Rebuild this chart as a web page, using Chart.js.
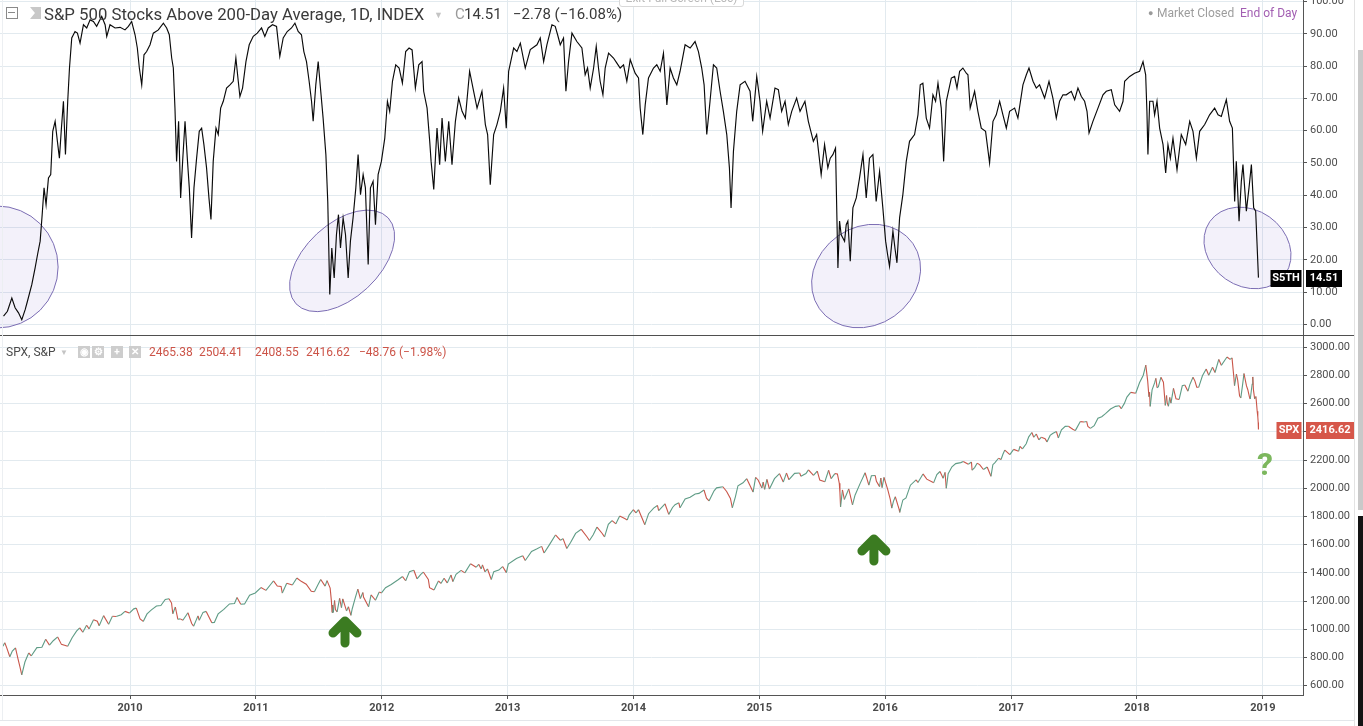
<!DOCTYPE html>
<html lang="en"><head><meta charset="utf-8"><title>S5TH vs SPX</title>
<script src="https://cdn.jsdelivr.net/npm/chart.js@4.4.1/dist/chart.umd.min.js"></script>
<style>
html,body{margin:0;padding:0;background:#fff}
body{position:relative;width:1363px;height:726px;overflow:hidden;font-family:Roboto,"Liberation Sans",Arial,sans-serif}
.a{position:absolute;white-space:nowrap}
canvas{position:absolute;left:0}
.ic{position:absolute;top:346px;width:12px;height:12px;background:#cdcdcd;color:#fff;font-size:10px;line-height:12px;text-align:center;font-weight:bold}
</style></head><body>
<canvas id="top" width="1355" height="336" style="top:0;width:1355px;height:336px"></canvas>
<canvas id="bot" width="1355" height="390" style="top:336px;width:1355px;height:390px"></canvas>

<div class="a" style="left:0;top:335px;width:1355px;height:1px;background:#4f4f4f"></div>
<div class="a" style="left:0;top:720px;width:1355px;height:1px;background:#e3e6ea"></div>
<div class="a" style="left:2px;top:0;width:1px;height:720px;background:#eceff2"></div>
<div class="a" style="left:1354px;top:0;width:1px;height:726px;background:#e3e3e3"></div>
<div class="a" style="left:1358px;top:50px;width:5px;height:460px;background:#c9c9c9"></div>
<div class="a" style="left:1358px;top:516px;width:5px;height:210px;background:#131313"></div>

<!-- top legend -->
<div class="a" style="left:6px;top:7px;width:10px;height:10px;border:1px solid #8a8a8a"></div>
<div class="a" style="left:8px;top:12px;width:7px;height:1px;background:#8a8a8a"></div>
<div class="a" style="left:30px;top:7px;width:11px;height:12px;background:#c8c8c8;clip-path:polygon(0 0,100% 0,100% 100%,0 100%,45% 50%)"></div>
<div class="a" style="left:44px;top:4px;font-size:16.75px;line-height:20px;color:#3a3a3a">S&amp;P 500 Stocks Above 200-Day Average, 1D, INDEX</div>
<div class="a" style="left:434px;top:5px;font-size:9px;line-height:20px;color:#c4c4c4">▼</div>
<div class="a" style="left:455px;top:4px;font-size:15px;line-height:20px;color:#9a9a9a">C</div>
<div class="a" style="left:464px;top:4px;font-size:15px;line-height:20px;color:#3a3a3a">14.51</div>
<div class="a" style="left:513px;top:4px;font-size:15px;line-height:20px;color:#3a3a3a">−2.78 (−16.08%)</div>
<div class="a" style="left:619px;top:-11px;width:123px;height:16px;border:1px solid #d9d9d9;border-radius:3px;background:#fff;color:#b8b8b8;font-size:12px;line-height:16px;text-align:center">Exit Full Screen (Esc)</div>
<div class="a" style="left:1148px;top:5px;font-size:9px;line-height:16px;color:#9a9a9a">●</div>
<div class="a" style="left:1157px;top:5px;font-size:12px;line-height:16px;color:#9d9d9d">Market Closed</div>
<div class="a" style="left:1240px;top:5px;font-size:12px;line-height:16px;color:#a25eb2">End of Day</div>

<!-- bottom legend -->
<div class="a" style="left:6px;top:344px;font-size:12px;line-height:16px;color:#4a4a4a">SPX, S&amp;P</div>
<div class="a" style="left:60px;top:345px;font-size:8px;line-height:16px;color:#c4c4c4">▼</div>
<div class="ic" style="left:78px">◉</div>
<div class="ic" style="left:92px">⚙</div>
<div class="ic" style="left:111px">+</div>
<div class="ic" style="left:129px">✕</div>
<div class="a" style="left:149px;top:344px;font-size:12px;line-height:16px;color:#cc5448">2465.38</div>
<div class="a" style="left:199px;top:344px;font-size:12px;line-height:16px;color:#cc5448">2504.41</div>
<div class="a" style="left:255px;top:344px;font-size:12px;line-height:16px;color:#cc5448">2408.55</div>
<div class="a" style="left:306px;top:344px;font-size:12px;line-height:16px;color:#cc5448">2416.62</div>
<div class="a" style="left:359px;top:344px;font-size:12px;line-height:16px;color:#cc5448">−48.76 (−1.98%)</div>

<script>
// ---------- tick labels ----------
const yearTicks = [2010, 2011, 2012, 2013, 2014, 2015, 2016, 2017, 2018, 2019];
const s5thTicks = [0, 10, 20, 30, 40, 50, 60, 70, 80, 90, 100];
const spxTicks = [600, 800, 1000, 1200, 1400, 1600, 1800, 2000, 2200, 2400, 2600, 2800, 3000];

// ---------- S5TH: % of S&P 500 stocks above 200-day average ([decimal year, value]) ----------
const s5th2009 = [[2008.995,2.6],[2009.026,4.1],[2009.061,8.2],[2009.087,5.2],[2009.114,3.6],[2009.140,1.5],[2009.167,4.6],[2009.185,7.2],[2009.220,12.4],[2009.246,17.5],[2009.265,21.6],[2009.286,25.8],[2009.302,34.0],[2009.317,42.3],[2009.333,37.1],[2009.352,45.4],[2009.370,46.4],[2009.386,59.8],[2009.405,62.9],[2009.423,56.7],[2009.439,51.5],[2009.455,60.8],[2009.471,69.1],[2009.487,52.6],[2009.505,69.1],[2009.519,79.4],[2009.537,88.7],[2009.563,90.7],[2009.582,90.2],[2009.603,87.1],[2009.630,92.8],[2009.656,91.8],[2009.683,94.3],[2009.709,93.8],[2009.735,92.3],[2009.775,95.4],[2009.802,92.8],[2009.815,89.2],[2009.841,92.8],[2009.881,91.8],[2009.921,92.0],[2009.960,91.2],[2009.987,92.3]];
const s5th2010 = [[2010.013,93.8],[2010.040,89.7],[2010.058,85.6],[2010.074,79.4],[2010.093,74.2],[2010.111,83.5],[2010.132,84.5],[2010.159,86.6],[2010.185,90.2],[2010.225,91.2],[2010.265,93.3],[2010.291,91.8],[2010.312,89.7],[2010.331,82.5],[2010.344,79.4],[2010.357,67.0],[2010.370,50.5],[2010.386,62.9],[2010.402,39.2],[2010.418,50.5],[2010.437,62.9],[2010.455,51.5],[2010.471,42.3],[2010.489,26.8],[2010.508,42.3],[2010.529,51.5],[2010.550,59.8],[2010.569,60.8],[2010.587,55.7],[2010.608,48.5],[2010.627,39.2],[2010.643,32.5],[2010.661,50.5],[2010.683,60.8],[2010.701,58.8],[2010.720,67.0],[2010.741,69.1],[2010.767,73.2],[2010.794,74.2],[2010.820,75.3],[2010.841,82.5],[2010.860,75.3],[2010.873,70.6],[2010.894,73.2],[2010.921,81.4],[2010.947,86.6],[2010.979,89.2]];
const s5th2011 = [[2011.011,90.2],[2011.045,91.8],[2011.071,89.2],[2011.098,91.8],[2011.132,92.8],[2011.164,92.3],[2011.190,83.0],[2011.217,88.7],[2011.249,90.7],[2011.283,91.8],[2011.310,93.3],[2011.336,90.7],[2011.362,89.7],[2011.381,84.5],[2011.402,81.4],[2011.423,75.3],[2011.442,69.1],[2011.455,62.9],[2011.476,74.2],[2011.495,81.4],[2011.513,73.2],[2011.534,63.9],[2011.556,52.6],[2011.571,38.1],[2011.587,9.3],[2011.603,23.7],[2011.622,14.4],[2011.640,27.8],[2011.656,34.0],[2011.672,23.7],[2011.693,33.0],[2011.712,27.8],[2011.733,14.4],[2011.751,25.8],[2011.772,33.0],[2011.794,42.3],[2011.812,52.6],[2011.831,40.2],[2011.852,46.4],[2011.870,42.3],[2011.892,18.6],[2011.910,42.3],[2011.931,44.3],[2011.950,30.9],[2011.971,46.4],[2011.997,50.5]];
const s5th2012 = [[2012.024,57.7],[2012.045,69.1],[2012.063,66.0],[2012.085,75.3],[2012.111,80.4],[2012.138,79.4],[2012.164,74.7],[2012.190,84.5],[2012.217,85.6],[2012.241,85.0],[2012.267,73.2],[2012.294,80.4],[2012.320,81.4],[2012.333,72.2],[2012.360,67.0],[2012.381,56.7],[2012.392,50.5],[2012.413,41.8],[2012.429,53.6],[2012.439,60.8],[2012.460,49.5],[2012.479,63.9],[2012.505,50.5],[2012.532,62.9],[2012.558,49.5],[2012.585,62.9],[2012.611,70.1],[2012.638,66.0],[2012.664,63.9],[2012.698,78.4],[2012.730,72.2],[2012.757,67.0],[2012.796,72.2],[2012.823,61.9],[2012.841,58.8],[2012.862,43.3],[2012.889,58.8],[2012.915,61.9],[2012.942,66.0],[2012.968,73.2],[2012.989,60.8]];
const s5th2013 = [[2013.008,78.4],[2013.048,85.6],[2013.074,84.5],[2013.101,87.1],[2013.140,79.4],[2013.180,85.1],[2013.233,86.6],[2013.259,88.7],[2013.286,81.4],[2013.312,86.6],[2013.352,92.8],[2013.378,92.3],[2013.397,89.7],[2013.418,86.6],[2013.444,88.7],[2013.463,72.2],[2013.484,81.4],[2013.511,90.2],[2013.550,87.6],[2013.590,85.6],[2013.616,77.3],[2013.635,79.4],[2013.656,73.2],[2013.683,79.4],[2013.704,86.1],[2013.722,79.4],[2013.735,75.3],[2013.757,71.1],[2013.775,79.4],[2013.802,84.0],[2013.841,82.5],[2013.868,80.9],[2013.894,79.4],[2013.921,80.4],[2013.947,75.3],[2013.974,82.0]];
const s5th2014 = [[2014.013,77.8],[2014.040,76.3],[2014.053,67.0],[2014.074,58.8],[2014.093,68.0],[2014.119,76.3],[2014.159,79.4],[2014.185,80.4],[2014.212,78.4],[2014.238,84.0],[2014.265,68.0],[2014.291,79.4],[2014.317,76.3],[2014.344,74.2],[2014.370,78.4],[2014.410,86.6],[2014.450,85.6],[2014.489,87.6],[2014.516,84.5],[2014.542,79.4],[2014.561,74.2],[2014.582,58.8],[2014.608,69.1],[2014.635,80.4],[2014.661,79.4],[2014.688,72.2],[2014.714,66.0],[2014.741,58.8],[2014.762,48.5],[2014.775,36.1],[2014.794,53.6],[2014.820,66.0],[2014.847,74.2],[2014.886,75.3],[2014.926,72.2],[2014.947,62.9],[2014.979,76.8]];
const s5th2015 = [[2015.005,69.1],[2015.026,59.8],[2015.058,69.1],[2015.085,63.9],[2015.124,73.2],[2015.151,72.7],[2015.177,66.0],[2015.204,69.1],[2015.230,61.9],[2015.257,66.0],[2015.296,70.1],[2015.323,66.0],[2015.362,69.1],[2015.389,62.9],[2015.429,56.7],[2015.455,58.8],[2015.491,46.4],[2015.518,55.7],[2015.544,48.5],[2015.563,51.5],[2015.584,52.6],[2015.605,54.6],[2015.624,17.5],[2015.637,32.0],[2015.650,27.8],[2015.677,25.8],[2015.690,30.9],[2015.703,32.0],[2015.722,19.6],[2015.743,36.1],[2015.770,39.2],[2015.796,45.4],[2015.823,52.6],[2015.849,39.2],[2015.875,51.5],[2015.902,52.6],[2015.928,38.1],[2015.955,47.4],[2015.981,36.1]];
const s5th2016 = [[2016.003,25.8],[2016.019,21.6],[2016.034,18.0],[2016.061,28.9],[2016.077,23.7],[2016.093,19.1],[2016.114,33.0],[2016.140,40.2],[2016.167,50.5],[2016.193,56.7],[2016.233,58.8],[2016.260,64.9],[2016.278,74.2],[2016.299,74.7],[2016.326,63.9],[2016.352,60.8],[2016.379,71.1],[2016.400,69.1],[2016.419,74.7],[2016.445,67.0],[2016.464,50.5],[2016.485,69.1],[2016.525,76.3],[2016.551,76.8],[2016.570,73.2],[2016.591,78.4],[2016.617,79.4],[2016.644,77.8],[2016.657,77.3],[2016.675,67.0],[2016.710,72.2],[2016.736,66.0],[2016.763,60.8],[2016.797,59.8],[2016.829,50.0],[2016.856,62.9],[2016.882,64.9],[2016.909,69.1],[2016.935,64.9],[2016.962,60.8],[2016.988,66.0]];
const s5th2017 = [[2017.028,67.0],[2017.054,63.9],[2017.094,74.2],[2017.121,77.3],[2017.142,79.4],[2017.174,75.3],[2017.200,73.2],[2017.226,74.2],[2017.266,70.1],[2017.301,75.3],[2017.332,70.1],[2017.359,63.9],[2017.385,69.1],[2017.412,71.1],[2017.438,71.1],[2017.478,72.2],[2017.505,69.6],[2017.531,73.2],[2017.558,70.6],[2017.584,69.1],[2017.603,66.0],[2017.619,59.3],[2017.650,62.9],[2017.690,67.0],[2017.730,71.1],[2017.756,72.2],[2017.796,72.7],[2017.823,68.0],[2017.862,66.0],[2017.889,69.1],[2017.902,75.3],[2017.942,76.8],[2017.981,77.8]];
const s5th2018 = [[2018.021,78.4],[2018.048,81.4],[2018.069,77.3],[2018.079,66.0],[2018.087,52.6],[2018.101,69.1],[2018.127,69.1],[2018.140,64.9],[2018.159,69.1],[2018.180,60.8],[2018.207,55.7],[2018.228,46.9],[2018.246,55.7],[2018.265,51.5],[2018.286,57.7],[2018.318,47.9],[2018.352,58.8],[2018.387,55.7],[2018.419,62.9],[2018.445,59.8],[2018.472,51.5],[2018.498,59.8],[2018.538,61.9],[2018.577,64.9],[2018.617,67.0],[2018.644,64.9],[2018.670,64.4],[2018.710,69.6],[2018.736,62.9],[2018.758,60.8],[2018.776,38.1],[2018.789,50.5],[2018.811,32.0],[2018.829,44.3],[2018.842,49.5],[2018.869,35.1],[2018.890,42.3],[2018.909,49.5],[2018.927,36.1],[2018.943,35.1],[2018.953,25.8],[2018.965,14.51]];

// ---------- SPX: S&P 500 index ([decimal year, close]) ----------
const spx2009 = [[2008.990,880],[2009.005,905],[2009.020,870],[2009.045,805],[2009.065,845],[2009.090,869],[2009.110,790],[2009.125,735],[2009.140,676],[2009.165,768],[2009.195,832],[2009.215,811],[2009.260,870],[2009.300,872],[2009.330,929],[2009.360,888],[2009.390,919],[2009.425,946],[2009.455,893],[2009.505,880],[2009.540,940],[2009.575,987],[2009.600,1010],[2009.625,979],[2009.655,1029],[2009.675,1003],[2009.710,1068],[2009.740,1057],[2009.755,1025],[2009.790,1097],[2009.830,1036],[2009.860,1093],[2009.890,1091],[2009.930,1103],[2009.960,1127],[2009.995,1115]];
const spx2010 = [[2010.030,1145],[2010.050,1150],[2010.080,1074],[2010.105,1056],[2010.135,1109],[2010.170,1138],[2010.210,1165],[2010.245,1169],[2010.280,1211],[2010.310,1217],[2010.330,1186],[2010.340,1110],[2010.360,1158],[2010.380,1071],[2010.400,1074],[2010.420,1064],[2010.460,1117],[2010.490,1041],[2010.505,1022],[2010.540,1095],[2010.550,1064],[2010.580,1120],[2010.605,1127],[2010.650,1047],[2010.670,1049],[2010.700,1109],[2010.745,1141],[2010.790,1180],[2010.830,1183],[2010.850,1225],[2010.880,1178],[2010.910,1180],[2010.950,1241],[2010.995,1258]];
const spx2011 = [[2011.040,1296],[2011.080,1276],[2011.120,1321],[2011.140,1343],[2011.170,1307],[2011.200,1304],[2011.210,1257],[2011.245,1326],[2011.290,1314],[2011.325,1364],[2011.360,1340],[2011.400,1320],[2011.440,1270],[2011.465,1266],[2011.495,1320],[2011.515,1353],[2011.550,1306],[2011.565,1345],[2011.590,1292],[2011.600,1200],[2011.605,1119],[2011.610,1172],[2011.615,1120],[2011.625,1204],[2011.632,1140],[2011.645,1124],[2011.665,1219],[2011.680,1154],[2011.690,1216],[2011.720,1130],[2011.735,1160],[2011.755,1099],[2011.765,1144],[2011.790,1225],[2011.810,1285],[2011.830,1218],[2011.850,1261],[2011.855,1229],[2011.895,1159],[2011.915,1244],[2011.950,1206],[2011.980,1265],[2011.998,1258]];
const spx2012 = [[2012.030,1295],[2012.075,1318],[2012.130,1351],[2012.165,1374],[2012.190,1344],[2012.220,1409],[2012.255,1419],[2012.280,1358],[2012.310,1390],[2012.330,1406],[2012.370,1354],[2012.380,1295],[2012.415,1278],[2012.450,1343],[2012.470,1325],[2012.495,1362],[2012.520,1329],[2012.550,1385],[2012.565,1338],[2012.590,1390],[2012.630,1418],[2012.660,1400],[2012.705,1465],[2012.750,1440],[2012.770,1461],[2012.790,1428],[2012.800,1457],[2012.820,1408],[2012.840,1428],[2012.870,1353],[2012.890,1409],[2012.930,1420],[2012.960,1445],[2012.990,1402]];
const spx2013 = [[2013.005,1462],[2013.070,1502],[2013.120,1521],[2013.140,1488],[2013.190,1552],[2013.230,1569],[2013.270,1588],[2013.290,1541],[2013.330,1597],[2013.380,1669],[2013.420,1631],[2013.440,1643],[2013.470,1573],[2013.500,1615],[2013.540,1680],[2013.585,1709],[2013.630,1656],[2013.650,1630],[2013.680,1670],[2013.710,1725],[2013.750,1681],[2013.770,1655],[2013.800,1744],[2013.830,1771],[2013.860,1748],[2013.890,1804],[2013.930,1785],[2013.950,1775],[2013.965,1810],[2013.998,1848]];
const spx2014 = [[2014.020,1826],[2014.040,1848],[2014.065,1795],[2014.090,1742],[2014.120,1820],[2014.160,1859],[2014.190,1878],[2014.200,1841],[2014.250,1890],[2014.280,1815],[2014.310,1864],[2014.330,1884],[2014.360,1897],[2014.370,1862],[2014.410,1924],[2014.450,1936],[2014.490,1960],[2014.520,1964],[2014.560,1988],[2014.580,1930],[2014.600,1910],[2014.640,1982],[2014.660,2003],[2014.710,2011],[2014.740,1977],[2014.770,1928],[2014.785,1862],[2014.810,1941],[2014.830,2018],[2014.870,2039],[2014.900,2068],[2014.950,1973],[2014.970,2078],[2014.990,2059]];
const spx2015 = [[2015.020,2002],[2015.030,2044],[2015.042,1992],[2015.060,2063],[2015.080,1995],[2015.120,2068],[2015.160,2104],[2015.190,2044],[2015.215,2108],[2015.235,2061],[2015.280,2106],[2015.320,2108],[2015.330,2085],[2015.370,2105],[2015.390,2131],[2015.430,2092],[2015.460,2122],[2015.480,2058],[2015.520,2046],[2015.550,2128],[2015.570,2068],[2015.600,2104],[2015.620,2102],[2015.635,2035],[2015.640,1971],[2015.645,1868],[2015.660,1988],[2015.675,1921],[2015.710,1996],[2015.740,1882],[2015.760,1951],[2015.800,2033],[2015.830,2090],[2015.840,2110],[2015.870,2023],[2015.890,2089],[2015.920,2091],[2015.930,2049],[2015.955,2012],[2015.965,2073],[2015.975,2005],[2015.990,2078]];
const spx2016 = [[2016.020,1990],[2016.040,1922],[2016.052,1859],[2016.065,1907],[2016.080,1940],[2016.100,1880],[2016.110,1852],[2016.115,1829],[2016.140,1917],[2016.165,1932],[2016.200,2022],[2016.245,2060],[2016.260,2041],[2016.300,2102],[2016.330,2065],[2016.370,2047],[2016.385,2040],[2016.410,2097],[2016.435,2119],[2016.460,2071],[2016.475,2113],[2016.485,2000],[2016.500,2103],[2016.530,2152],[2016.560,2175],[2016.600,2182],[2016.620,2190],[2016.660,2170],[2016.685,2186],[2016.690,2128],[2016.710,2147],[2016.730,2177],[2016.750,2168],[2016.780,2133],[2016.810,2151],[2016.840,2085],[2016.855,2167],[2016.870,2181],[2016.900,2213],[2016.920,2204],[2016.935,2241],[2016.950,2271],[2016.990,2239]];
const spx2017 = [[2017.020,2276],[2017.060,2263],[2017.070,2298],[2017.090,2279],[2017.120,2316],[2017.140,2365],[2017.165,2396],[2017.180,2362],[2017.200,2385],[2017.220,2344],[2017.240,2362],[2017.270,2352],[2017.285,2329],[2017.310,2375],[2017.330,2388],[2017.360,2402],[2017.375,2357],[2017.400,2415],[2017.430,2439],[2017.455,2440],[2017.490,2419],[2017.510,2409],[2017.550,2473],[2017.580,2470],[2017.600,2474],[2017.610,2438],[2017.630,2425],[2017.660,2444],[2017.690,2497],[2017.720,2508],[2017.750,2529],[2017.790,2562],[2017.830,2581],[2017.860,2585],[2017.875,2564],[2017.900,2602],[2017.920,2647],[2017.950,2680],[2017.990,2674]];
const spx2018 = [[2018.020,2748],[2018.050,2802],[2018.070,2873],[2018.085,2762],[2018.095,2649],[2018.100,2681],[2018.105,2581],[2018.120,2698],[2018.140,2747],[2018.150,2780],[2018.160,2713],[2018.170,2720],[2018.190,2787],[2018.210,2752],[2018.220,2643],[2018.225,2588],[2018.235,2658],[2018.240,2605],[2018.250,2582],[2018.260,2644],[2018.270,2604],[2018.290,2708],[2018.310,2634],[2018.335,2630],[2018.360,2727],[2018.380,2733],[2018.405,2689],[2018.420,2735],[2018.445,2787],[2018.460,2762],[2018.475,2717],[2018.490,2716],[2018.520,2798],[2018.550,2846],[2018.570,2802],[2018.600,2858],[2018.620,2821],[2018.650,2914],[2018.670,2872],[2018.715,2931],[2018.740,2914],[2018.755,2925],[2018.770,2785],[2018.775,2728],[2018.790,2810],[2018.800,2768],[2018.815,2656],[2018.825,2641],[2018.840,2740],[2018.850,2814],[2018.870,2726],[2018.880,2701],[2018.895,2641],[2018.900,2633],[2018.915,2738],[2018.920,2790],[2018.925,2700],[2018.935,2634],[2018.945,2651],[2018.950,2599],[2018.955,2546],[2018.960,2506],[2018.963,2467],[2018.965,2416.62]];

// ---------- annotations (drawn through the scales) ----------
const ellipses = [
  {x: 2008.944, y: 17.8, rx: 61, ry: 61, rot: 0},
  {x: 2011.685, y: 19.7, rx: 63, ry: 37, rot: -43},
  {x: 2015.848, y: 15.0, rx: 57, ry: 49, rot: -35},
  {x: 2018.878, y: 23.7, rx: 46, ry: 38, rot: 35}
];
const arrows = [{x: 2011.708, y: 1059}, {x: 2015.910, y: 1640}];
const question = {x: 2019.017, y: 2151};

// ---------- build ----------
const X_MIN = 2008.967, X_MAX = 2019.319;
const GRID = '#e2eaef';
const AXIS = '#555555';
const LABEL_FONT = {family: 'Roboto', size: 11};
const s5thSeries = [].concat(s5th2009, s5th2010, s5th2011, s5th2012, s5th2013, s5th2014, s5th2015, s5th2016, s5th2017, s5th2018);
const spxSeries = [].concat(spx2009, spx2010, spx2011, spx2012, spx2013, spx2014, spx2015, spx2016, spx2017, spx2018);
const toXY = a => a.map(p => ({x: p[0], y: p[1]}));

function fixBox(w, h) {
  return s => {
    s.paddingTop = 0; s.paddingBottom = 0; s.paddingLeft = 0; s.paddingRight = 0;
    if (w !== null) s.width = w;
    if (h !== null) s.height = h;
  };
}
function setTicks(list) { return s => { s.ticks = list.map(v => ({value: v})); }; }

function valueLabel(chart, value, name, text, bg, nameW, valW) {
  const ctx = chart.ctx, r = chart.chartArea.right;
  const y = Math.round(chart.scales.y.getPixelForValue(value));
  ctx.save();
  ctx.fillStyle = bg;
  ctx.fillRect(r - nameW - 1.5, y - 8, nameW, 17);
  ctx.fillRect(r + 3, y - 8, valW, 17);
  ctx.fillStyle = '#fff';
  ctx.font = 'bold 11px Roboto';
  ctx.textAlign = 'center'; ctx.textBaseline = 'middle';
  ctx.fillText(name, r - nameW / 2 - 1.5, y + 0.5);
  ctx.fillText(text, r + 3 + valW / 2, y + 0.5);
  ctx.restore();
}

const topPlugin = {
  id: 'topAnno',
  beforeDatasetsDraw(chart) {
    const ctx = chart.ctx, xs = chart.scales.x, ys = chart.scales.y;
    ctx.save();
    ellipses.forEach(e => {
      ctx.beginPath();
      ctx.ellipse(xs.getPixelForValue(e.x), ys.getPixelForValue(e.y), e.rx, e.ry, e.rot * Math.PI / 180, 0, Math.PI * 2);
      ctx.fillStyle = 'rgba(120,90,200,0.085)';
      ctx.fill();
      ctx.lineWidth = 1;
      ctx.strokeStyle = '#7b6db3';
      ctx.stroke();
    });
    ctx.restore();
  },
  afterDraw(chart) {
    const last = s5thSeries[s5thSeries.length - 1][1];
    valueLabel(chart, last, 'S5TH', last.toFixed(2), '#000', 31, 36);
  }
};

const botPlugin = {
  id: 'botAnno',
  afterDatasetsDraw(chart) {
    const ctx = chart.ctx, xs = chart.scales.x, ys = chart.scales.y;
    ctx.save();
    ctx.strokeStyle = '#3b7b21'; ctx.lineWidth = 9; ctx.lineCap = 'round'; ctx.lineJoin = 'round';
    arrows.forEach(a => {
      const x = xs.getPixelForValue(a.x), y = ys.getPixelForValue(a.y);
      ctx.beginPath();
      ctx.moveTo(x - 12, y + 12); ctx.lineTo(x, y); ctx.lineTo(x + 12, y + 12);
      ctx.moveTo(x, y + 2); ctx.lineTo(x, y + 22);
      ctx.stroke();
    });
    ctx.fillStyle = '#7cb75e';
    ctx.font = 'bold 32px Roboto';
    ctx.textAlign = 'center'; ctx.textBaseline = 'middle';
    ctx.fillText('?', xs.getPixelForValue(question.x), ys.getPixelForValue(question.y));
    ctx.restore();
  },
  afterDraw(chart) {
    const last = spxSeries[spxSeries.length - 1][1];
    valueLabel(chart, last, 'SPX', last.toFixed(2), '#d6574a', 25, 48);
  }
};

const baseOpts = {
  responsive: false, animation: false, events: [],
  layout: {padding: 0},
  plugins: {legend: {display: false}, tooltip: {enabled: false}},
  elements: {point: {radius: 0}, line: {tension: 0}}
};

new Chart(document.getElementById('top'), {
  type: 'line',
  data: {datasets: [{data: toXY(s5thSeries), borderColor: '#0a0a0a', borderWidth: 1.15, fill: false}]},
  options: Object.assign({}, baseOpts, {
    scales: {
      x: {type: 'linear', min: X_MIN, max: X_MAX, afterBuildTicks: setTicks(yearTicks), afterFit: fixBox(null, 0),
          ticks: {display: false}, grid: {color: GRID, drawTicks: false}, border: {display: false}},
      y: {position: 'right', min: -3.56, max: 100.46, afterBuildTicks: setTicks(s5thTicks), afterFit: fixBox(52, null),
          ticks: {autoSkip: false, padding: 3, color: '#4d4d4d', font: LABEL_FONT, callback: v => Number(v).toFixed(2)},
          grid: {color: GRID, tickColor: AXIS, tickLength: 4}, border: {display: true, color: AXIS}}
    }
  }),
  plugins: [topPlugin]
});

new Chart(document.getElementById('bot'), {
  type: 'line',
  data: {datasets: [{data: toXY(spxSeries), borderWidth: 1.1, fill: false, borderColor: '#b8685a',
    segment: {borderColor: c => (c.p1.parsed.y >= c.p0.parsed.y ? '#5f9c86' : '#c9564a')}}]},
  options: Object.assign({}, baseOpts, {
    scales: {
      x: {type: 'linear', min: X_MIN, max: X_MAX, afterBuildTicks: setTicks(yearTicks), afterFit: fixBox(null, 31),
          ticks: {autoSkip: false, maxRotation: 0, padding: 3, color: '#4a4a4a', font: {family: 'Roboto', size: 11, weight: 'bold'}, callback: v => String(v)},
          grid: {color: GRID, tickColor: AXIS, tickLength: 4}, border: {display: true, color: AXIS}},
      y: {position: 'right', min: 534, max: 3080, afterBuildTicks: setTicks(spxTicks), afterFit: fixBox(52, null),
          ticks: {autoSkip: false, padding: 3, color: '#4d4d4d', font: LABEL_FONT, callback: v => Number(v).toFixed(2)},
          grid: {color: GRID, tickColor: AXIS, tickLength: 4}, border: {display: true, color: AXIS}}
    }
  }),
  plugins: [botPlugin]
});
</script>
</body></html>
